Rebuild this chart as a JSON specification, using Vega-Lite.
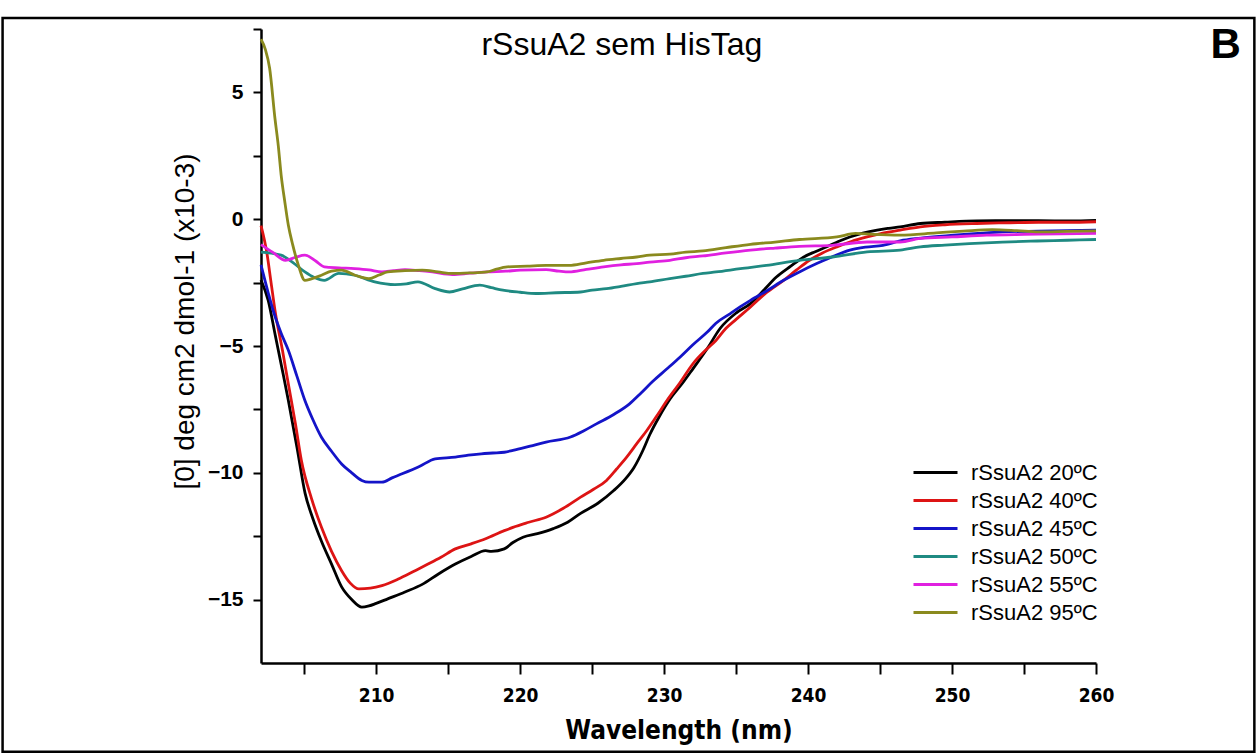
{
  "$schema": "https://vega.github.io/schema/vega-lite/v6.json",
  "width": 835,
  "height": 634,
  "autosize": {"type": "none"},
  "padding": {"left": 261, "top": 29, "right": 161, "bottom": 91},
  "background": "white",
  "config": {
    "view": {"stroke": null},
    "axis": {"domainColor": "black", "domainWidth": 2.5, "tickColor": "black", "tickWidth": 2, "grid": false, "labelColor": "black", "titleColor": "black"}
  },
  "datasets": {
    "cd": [
      {"s":"rSsuA2 20ºC","x":202.0,"y":-2.4},{"s":"rSsuA2 20ºC","x":202.5,"y":-3.2},{"s":"rSsuA2 20ºC","x":203.0,"y":-4.6},{"s":"rSsuA2 20ºC","x":203.5,"y":-6.0},{"s":"rSsuA2 20ºC","x":203.9,"y":-7.15},{"s":"rSsuA2 20ºC","x":204.5,"y":-9.0},{"s":"rSsuA2 20ºC","x":205.06,"y":-10.8},{"s":"rSsuA2 20ºC","x":205.6,"y":-11.8},{"s":"rSsuA2 20ºC","x":206.2,"y":-12.7},{"s":"rSsuA2 20ºC","x":206.9,"y":-13.6},{"s":"rSsuA2 20ºC","x":207.6,"y":-14.5},{"s":"rSsuA2 20ºC","x":208.3,"y":-15.0},{"s":"rSsuA2 20ºC","x":209.0,"y":-15.3},{"s":"rSsuA2 20ºC","x":209.5,"y":-15.25},{"s":"rSsuA2 20ºC","x":210.0,"y":-15.15},{"s":"rSsuA2 20ºC","x":210.8,"y":-14.97},{"s":"rSsuA2 20ºC","x":212.0,"y":-14.7},{"s":"rSsuA2 20ºC","x":213.2,"y":-14.4},{"s":"rSsuA2 20ºC","x":214.3,"y":-14.0},{"s":"rSsuA2 20ºC","x":215.5,"y":-13.6},{"s":"rSsuA2 20ºC","x":216.6,"y":-13.3},{"s":"rSsuA2 20ºC","x":217.6,"y":-13.07},{"s":"rSsuA2 20ºC","x":218.0,"y":-13.1},{"s":"rSsuA2 20ºC","x":218.9,"y":-13.0},{"s":"rSsuA2 20ºC","x":219.5,"y":-12.75},{"s":"rSsuA2 20ºC","x":220.2,"y":-12.54},{"s":"rSsuA2 20ºC","x":221.2,"y":-12.4},{"s":"rSsuA2 20ºC","x":222.3,"y":-12.2},{"s":"rSsuA2 20ºC","x":223.3,"y":-11.95},{"s":"rSsuA2 20ºC","x":224.2,"y":-11.6},{"s":"rSsuA2 20ºC","x":225.4,"y":-11.2},{"s":"rSsuA2 20ºC","x":226.5,"y":-10.7},{"s":"rSsuA2 20ºC","x":227.3,"y":-10.25},{"s":"rSsuA2 20ºC","x":227.9,"y":-9.8},{"s":"rSsuA2 20ºC","x":228.5,"y":-9.15},{"s":"rSsuA2 20ºC","x":229.0,"y":-8.5},{"s":"rSsuA2 20ºC","x":229.7,"y":-7.75},{"s":"rSsuA2 20ºC","x":230.4,"y":-7.1},{"s":"rSsuA2 20ºC","x":231.3,"y":-6.45},{"s":"rSsuA2 20ºC","x":232.0,"y":-5.9},{"s":"rSsuA2 20ºC","x":233.0,"y":-5.1},{"s":"rSsuA2 20ºC","x":233.9,"y":-4.3},{"s":"rSsuA2 20ºC","x":235.0,"y":-3.7},{"s":"rSsuA2 20ºC","x":236.0,"y":-3.33},{"s":"rSsuA2 20ºC","x":237.0,"y":-2.75},{"s":"rSsuA2 20ºC","x":237.8,"y":-2.28},{"s":"rSsuA2 20ºC","x":238.8,"y":-1.85},{"s":"rSsuA2 20ºC","x":239.7,"y":-1.49},{"s":"rSsuA2 20ºC","x":240.5,"y":-1.28},{"s":"rSsuA2 20ºC","x":241.3,"y":-1.09},{"s":"rSsuA2 20ºC","x":242.1,"y":-0.88},{"s":"rSsuA2 20ºC","x":242.9,"y":-0.7},{"s":"rSsuA2 20ºC","x":243.8,"y":-0.55},{"s":"rSsuA2 20ºC","x":244.8,"y":-0.43},{"s":"rSsuA2 20ºC","x":245.6,"y":-0.36},{"s":"rSsuA2 20ºC","x":246.4,"y":-0.3},{"s":"rSsuA2 20ºC","x":247.8,"y":-0.17},{"s":"rSsuA2 20ºC","x":249.5,"y":-0.12},{"s":"rSsuA2 20ºC","x":251.7,"y":-0.07},{"s":"rSsuA2 20ºC","x":254.0,"y":-0.06},{"s":"rSsuA2 20ºC","x":256.0,"y":-0.06},{"s":"rSsuA2 20ºC","x":258.2,"y":-0.07},{"s":"rSsuA2 20ºC","x":260.0,"y":-0.05},

      {"s":"rSsuA2 40ºC","x":202.0,"y":-0.25},{"s":"rSsuA2 40ºC","x":202.4,"y":-1.3},{"s":"rSsuA2 40ºC","x":202.7,"y":-2.5},{"s":"rSsuA2 40ºC","x":203.0,"y":-3.7},{"s":"rSsuA2 40ºC","x":203.5,"y":-5.2},{"s":"rSsuA2 40ºC","x":203.9,"y":-6.5},{"s":"rSsuA2 40ºC","x":204.4,"y":-8.1},{"s":"rSsuA2 40ºC","x":204.8,"y":-9.5},{"s":"rSsuA2 40ºC","x":205.5,"y":-11.0},{"s":"rSsuA2 40ºC","x":206.2,"y":-12.15},{"s":"rSsuA2 40ºC","x":206.9,"y":-13.1},{"s":"rSsuA2 40ºC","x":207.6,"y":-13.86},{"s":"rSsuA2 40ºC","x":208.2,"y":-14.35},{"s":"rSsuA2 40ºC","x":208.8,"y":-14.58},{"s":"rSsuA2 40ºC","x":209.6,"y":-14.55},{"s":"rSsuA2 40ºC","x":210.4,"y":-14.45},{"s":"rSsuA2 40ºC","x":211.5,"y":-14.2},{"s":"rSsuA2 40ºC","x":212.7,"y":-13.86},{"s":"rSsuA2 40ºC","x":213.6,"y":-13.6},{"s":"rSsuA2 40ºC","x":214.5,"y":-13.33},{"s":"rSsuA2 40ºC","x":215.5,"y":-13.0},{"s":"rSsuA2 40ºC","x":216.6,"y":-12.8},{"s":"rSsuA2 40ºC","x":217.6,"y":-12.6},{"s":"rSsuA2 40ºC","x":218.9,"y":-12.28},{"s":"rSsuA2 40ºC","x":219.5,"y":-12.15},{"s":"rSsuA2 40ºC","x":220.6,"y":-11.95},{"s":"rSsuA2 40ºC","x":221.8,"y":-11.75},{"s":"rSsuA2 40ºC","x":223.0,"y":-11.4},{"s":"rSsuA2 40ºC","x":224.2,"y":-10.96},{"s":"rSsuA2 40ºC","x":225.1,"y":-10.65},{"s":"rSsuA2 40ºC","x":226.0,"y":-10.3},{"s":"rSsuA2 40ºC","x":226.7,"y":-9.85},{"s":"rSsuA2 40ºC","x":227.4,"y":-9.38},{"s":"rSsuA2 40ºC","x":228.1,"y":-8.85},{"s":"rSsuA2 40ºC","x":228.8,"y":-8.33},{"s":"rSsuA2 40ºC","x":229.5,"y":-7.75},{"s":"rSsuA2 40ºC","x":230.2,"y":-7.15},{"s":"rSsuA2 40ºC","x":231.1,"y":-6.45},{"s":"rSsuA2 40ºC","x":232.0,"y":-5.7},{"s":"rSsuA2 40ºC","x":233.0,"y":-5.1},{"s":"rSsuA2 40ºC","x":233.6,"y":-4.78},{"s":"rSsuA2 40ºC","x":234.3,"y":-4.3},{"s":"rSsuA2 40ºC","x":235.0,"y":-3.95},{"s":"rSsuA2 40ºC","x":236.0,"y":-3.46},{"s":"rSsuA2 40ºC","x":237.1,"y":-2.9},{"s":"rSsuA2 40ºC","x":238.3,"y":-2.41},{"s":"rSsuA2 40ºC","x":239.2,"y":-2.0},{"s":"rSsuA2 40ºC","x":240.1,"y":-1.62},{"s":"rSsuA2 40ºC","x":241.0,"y":-1.33},{"s":"rSsuA2 40ºC","x":242.0,"y":-1.09},{"s":"rSsuA2 40ºC","x":243.0,"y":-0.88},{"s":"rSsuA2 40ºC","x":244.1,"y":-0.7},{"s":"rSsuA2 40ºC","x":245.2,"y":-0.55},{"s":"rSsuA2 40ºC","x":246.4,"y":-0.43},{"s":"rSsuA2 40ºC","x":247.8,"y":-0.3},{"s":"rSsuA2 40ºC","x":249.5,"y":-0.22},{"s":"rSsuA2 40ºC","x":251.7,"y":-0.17},{"s":"rSsuA2 40ºC","x":254.0,"y":-0.14},{"s":"rSsuA2 40ºC","x":256.0,"y":-0.12},{"s":"rSsuA2 40ºC","x":258.0,"y":-0.12},{"s":"rSsuA2 40ºC","x":260.0,"y":-0.1},

      {"s":"rSsuA2 45ºC","x":202.0,"y":-1.8},{"s":"rSsuA2 45ºC","x":202.5,"y":-2.9},{"s":"rSsuA2 45ºC","x":202.9,"y":-3.7},{"s":"rSsuA2 45ºC","x":203.4,"y":-4.5},{"s":"rSsuA2 45ºC","x":203.9,"y":-5.17},{"s":"rSsuA2 45ºC","x":204.5,"y":-6.2},{"s":"rSsuA2 45ºC","x":205.05,"y":-7.15},{"s":"rSsuA2 45ºC","x":205.6,"y":-7.9},{"s":"rSsuA2 45ºC","x":206.2,"y":-8.6},{"s":"rSsuA2 45ºC","x":206.9,"y":-9.15},{"s":"rSsuA2 45ºC","x":207.6,"y":-9.65},{"s":"rSsuA2 45ºC","x":208.3,"y":-10.0},{"s":"rSsuA2 45ºC","x":209.0,"y":-10.3},{"s":"rSsuA2 45ºC","x":209.5,"y":-10.37},{"s":"rSsuA2 45ºC","x":210.4,"y":-10.37},{"s":"rSsuA2 45ºC","x":211.1,"y":-10.2},{"s":"rSsuA2 45ºC","x":211.8,"y":-10.04},{"s":"rSsuA2 45ºC","x":213.0,"y":-9.75},{"s":"rSsuA2 45ºC","x":214.1,"y":-9.45},{"s":"rSsuA2 45ºC","x":215.5,"y":-9.38},{"s":"rSsuA2 45ºC","x":216.4,"y":-9.3},{"s":"rSsuA2 45ºC","x":217.3,"y":-9.25},{"s":"rSsuA2 45ºC","x":218.1,"y":-9.22},{"s":"rSsuA2 45ºC","x":218.9,"y":-9.19},{"s":"rSsuA2 45ºC","x":219.5,"y":-9.12},{"s":"rSsuA2 45ºC","x":220.7,"y":-8.95},{"s":"rSsuA2 45ºC","x":221.8,"y":-8.79},{"s":"rSsuA2 45ºC","x":223.5,"y":-8.59},{"s":"rSsuA2 45ºC","x":224.4,"y":-8.35},{"s":"rSsuA2 45ºC","x":225.3,"y":-8.07},{"s":"rSsuA2 45ºC","x":226.5,"y":-7.7},{"s":"rSsuA2 45ºC","x":227.6,"y":-7.28},{"s":"rSsuA2 45ºC","x":228.4,"y":-6.85},{"s":"rSsuA2 45ºC","x":229.2,"y":-6.4},{"s":"rSsuA2 45ºC","x":230.2,"y":-5.9},{"s":"rSsuA2 45ºC","x":231.1,"y":-5.44},{"s":"rSsuA2 45ºC","x":232.0,"y":-4.95},{"s":"rSsuA2 45ºC","x":233.0,"y":-4.45},{"s":"rSsuA2 45ºC","x":233.6,"y":-4.1},{"s":"rSsuA2 45ºC","x":234.6,"y":-3.72},{"s":"rSsuA2 45ºC","x":235.3,"y":-3.45},{"s":"rSsuA2 45ºC","x":236.0,"y":-3.2},{"s":"rSsuA2 45ºC","x":237.2,"y":-2.8},{"s":"rSsuA2 45ºC","x":238.3,"y":-2.41},{"s":"rSsuA2 45ºC","x":239.5,"y":-2.05},{"s":"rSsuA2 45ºC","x":240.6,"y":-1.75},{"s":"rSsuA2 45ºC","x":241.8,"y":-1.45},{"s":"rSsuA2 45ºC","x":242.9,"y":-1.22},{"s":"rSsuA2 45ºC","x":244.0,"y":-1.1},{"s":"rSsuA2 45ºC","x":245.2,"y":-1.03},{"s":"rSsuA2 45ºC","x":246.6,"y":-0.83},{"s":"rSsuA2 45ºC","x":248.3,"y":-0.72},{"s":"rSsuA2 45ºC","x":250.1,"y":-0.63},{"s":"rSsuA2 45ºC","x":251.8,"y":-0.56},{"s":"rSsuA2 45ºC","x":253.5,"y":-0.5},{"s":"rSsuA2 45ºC","x":256.0,"y":-0.47},{"s":"rSsuA2 45ºC","x":258.0,"y":-0.45},{"s":"rSsuA2 45ºC","x":260.0,"y":-0.43},

      {"s":"rSsuA2 50ºC","x":202.0,"y":-1.3},{"s":"rSsuA2 50ºC","x":203.4,"y":-1.42},{"s":"rSsuA2 50ºC","x":204.2,"y":-1.7},{"s":"rSsuA2 50ºC","x":205.05,"y":-2.08},{"s":"rSsuA2 50ºC","x":205.7,"y":-2.3},{"s":"rSsuA2 50ºC","x":206.4,"y":-2.41},{"s":"rSsuA2 50ºC","x":207.4,"y":-2.14},{"s":"rSsuA2 50ºC","x":208.5,"y":-2.21},{"s":"rSsuA2 50ºC","x":209.9,"y":-2.47},{"s":"rSsuA2 50ºC","x":211.3,"y":-2.58},{"s":"rSsuA2 50ºC","x":212.1,"y":-2.55},{"s":"rSsuA2 50ºC","x":212.9,"y":-2.47},{"s":"rSsuA2 50ºC","x":214.1,"y":-2.74},{"s":"rSsuA2 50ºC","x":215.1,"y":-2.87},{"s":"rSsuA2 50ºC","x":216.0,"y":-2.75},{"s":"rSsuA2 50ºC","x":217.2,"y":-2.6},{"s":"rSsuA2 50ºC","x":218.0,"y":-2.7},{"s":"rSsuA2 50ºC","x":218.8,"y":-2.8},{"s":"rSsuA2 50ºC","x":220.0,"y":-2.88},{"s":"rSsuA2 50ºC","x":221.1,"y":-2.93},{"s":"rSsuA2 50ºC","x":222.5,"y":-2.9},{"s":"rSsuA2 50ºC","x":224.2,"y":-2.87},{"s":"rSsuA2 50ºC","x":225.0,"y":-2.8},{"s":"rSsuA2 50ºC","x":226.0,"y":-2.74},{"s":"rSsuA2 50ºC","x":227.0,"y":-2.65},{"s":"rSsuA2 50ºC","x":228.1,"y":-2.54},{"s":"rSsuA2 50ºC","x":229.0,"y":-2.47},{"s":"rSsuA2 50ºC","x":230.4,"y":-2.34},{"s":"rSsuA2 50ºC","x":231.5,"y":-2.25},{"s":"rSsuA2 50ºC","x":232.7,"y":-2.14},{"s":"rSsuA2 50ºC","x":233.6,"y":-2.08},{"s":"rSsuA2 50ºC","x":235.3,"y":-1.95},{"s":"rSsuA2 50ºC","x":237.1,"y":-1.82},{"s":"rSsuA2 50ºC","x":239.4,"y":-1.62},{"s":"rSsuA2 50ºC","x":241.7,"y":-1.49},{"s":"rSsuA2 50ºC","x":244.1,"y":-1.29},{"s":"rSsuA2 50ºC","x":246.4,"y":-1.22},{"s":"rSsuA2 50ºC","x":247.8,"y":-1.09},{"s":"rSsuA2 50ºC","x":249.5,"y":-1.02},{"s":"rSsuA2 50ºC","x":251.2,"y":-0.96},{"s":"rSsuA2 50ºC","x":253.5,"y":-0.9},{"s":"rSsuA2 50ºC","x":255.9,"y":-0.86},{"s":"rSsuA2 50ºC","x":258.0,"y":-0.83},{"s":"rSsuA2 50ºC","x":260.0,"y":-0.8},

      {"s":"rSsuA2 55ºC","x":202.0,"y":-1.0},{"s":"rSsuA2 55ºC","x":202.8,"y":-1.3},{"s":"rSsuA2 55ºC","x":203.7,"y":-1.62},{"s":"rSsuA2 55ºC","x":204.4,"y":-1.5},{"s":"rSsuA2 55ºC","x":205.05,"y":-1.42},{"s":"rSsuA2 55ºC","x":205.8,"y":-1.65},{"s":"rSsuA2 55ºC","x":206.4,"y":-1.88},{"s":"rSsuA2 55ºC","x":207.4,"y":-1.92},{"s":"rSsuA2 55ºC","x":208.5,"y":-1.95},{"s":"rSsuA2 55ºC","x":209.5,"y":-2.0},{"s":"rSsuA2 55ºC","x":210.4,"y":-2.08},{"s":"rSsuA2 55ºC","x":211.2,"y":-2.03},{"s":"rSsuA2 55ºC","x":212.0,"y":-1.99},{"s":"rSsuA2 55ºC","x":213.0,"y":-2.03},{"s":"rSsuA2 55ºC","x":213.9,"y":-2.08},{"s":"rSsuA2 55ºC","x":215.3,"y":-2.18},{"s":"rSsuA2 55ºC","x":216.5,"y":-2.13},{"s":"rSsuA2 55ºC","x":217.7,"y":-2.08},{"s":"rSsuA2 55ºC","x":219.0,"y":-2.05},{"s":"rSsuA2 55ºC","x":220.0,"y":-2.01},{"s":"rSsuA2 55ºC","x":221.8,"y":-1.99},{"s":"rSsuA2 55ºC","x":222.7,"y":-2.05},{"s":"rSsuA2 55ºC","x":223.4,"y":-2.08},{"s":"rSsuA2 55ºC","x":224.6,"y":-1.98},{"s":"rSsuA2 55ºC","x":225.8,"y":-1.88},{"s":"rSsuA2 55ºC","x":227.0,"y":-1.8},{"s":"rSsuA2 55ºC","x":228.1,"y":-1.75},{"s":"rSsuA2 55ºC","x":229.0,"y":-1.69},{"s":"rSsuA2 55ºC","x":230.4,"y":-1.62},{"s":"rSsuA2 55ºC","x":231.5,"y":-1.52},{"s":"rSsuA2 55ºC","x":232.7,"y":-1.45},{"s":"rSsuA2 55ºC","x":234.3,"y":-1.33},{"s":"rSsuA2 55ºC","x":236.0,"y":-1.22},{"s":"rSsuA2 55ºC","x":237.7,"y":-1.14},{"s":"rSsuA2 55ºC","x":239.4,"y":-1.07},{"s":"rSsuA2 55ºC","x":241.7,"y":-1.03},{"s":"rSsuA2 55ºC","x":244.1,"y":-0.9},{"s":"rSsuA2 55ºC","x":246.4,"y":-0.9},{"s":"rSsuA2 55ºC","x":247.8,"y":-0.76},{"s":"rSsuA2 55ºC","x":250.0,"y":-0.7},{"s":"rSsuA2 55ºC","x":252.4,"y":-0.63},{"s":"rSsuA2 55ºC","x":255.0,"y":-0.6},{"s":"rSsuA2 55ºC","x":257.5,"y":-0.58},{"s":"rSsuA2 55ºC","x":260.0,"y":-0.56},

      {"s":"rSsuA2 95ºC","x":202.0,"y":7.1},{"s":"rSsuA2 95ºC","x":202.3,"y":6.7},{"s":"rSsuA2 95ºC","x":202.6,"y":5.95},{"s":"rSsuA2 95ºC","x":202.97,"y":3.97},{"s":"rSsuA2 95ºC","x":203.2,"y":2.9},{"s":"rSsuA2 95ºC","x":203.4,"y":1.74},{"s":"rSsuA2 95ºC","x":203.65,"y":0.7},{"s":"rSsuA2 95ºC","x":203.9,"y":-0.24},{"s":"rSsuA2 95ºC","x":204.2,"y":-1.0},{"s":"rSsuA2 95ºC","x":204.6,"y":-1.82},{"s":"rSsuA2 95ºC","x":205.05,"y":-2.41},{"s":"rSsuA2 95ºC","x":205.5,"y":-2.35},{"s":"rSsuA2 95ºC","x":206.2,"y":-2.21},{"s":"rSsuA2 95ºC","x":206.9,"y":-2.05},{"s":"rSsuA2 95ºC","x":207.6,"y":-2.01},{"s":"rSsuA2 95ºC","x":208.5,"y":-2.2},{"s":"rSsuA2 95ºC","x":209.5,"y":-2.34},{"s":"rSsuA2 95ºC","x":210.2,"y":-2.2},{"s":"rSsuA2 95ºC","x":210.8,"y":-2.08},{"s":"rSsuA2 95ºC","x":212.0,"y":-2.03},{"s":"rSsuA2 95ºC","x":213.2,"y":-2.01},{"s":"rSsuA2 95ºC","x":214.3,"y":-2.08},{"s":"rSsuA2 95ºC","x":215.3,"y":-2.14},{"s":"rSsuA2 95ºC","x":216.5,"y":-2.12},{"s":"rSsuA2 95ºC","x":217.7,"y":-2.08},{"s":"rSsuA2 95ºC","x":218.3,"y":-1.98},{"s":"rSsuA2 95ºC","x":219.1,"y":-1.88},{"s":"rSsuA2 95ºC","x":220.5,"y":-1.85},{"s":"rSsuA2 95ºC","x":221.8,"y":-1.82},{"s":"rSsuA2 95ºC","x":223.4,"y":-1.82},{"s":"rSsuA2 95ºC","x":224.6,"y":-1.72},{"s":"rSsuA2 95ºC","x":225.8,"y":-1.62},{"s":"rSsuA2 95ºC","x":227.0,"y":-1.55},{"s":"rSsuA2 95ºC","x":228.1,"y":-1.49},{"s":"rSsuA2 95ºC","x":229.0,"y":-1.42},{"s":"rSsuA2 95ºC","x":230.4,"y":-1.38},{"s":"rSsuA2 95ºC","x":231.5,"y":-1.3},{"s":"rSsuA2 95ºC","x":232.7,"y":-1.25},{"s":"rSsuA2 95ºC","x":234.3,"y":-1.12},{"s":"rSsuA2 95ºC","x":236.0,"y":-0.99},{"s":"rSsuA2 95ºC","x":237.7,"y":-0.9},{"s":"rSsuA2 95ºC","x":239.4,"y":-0.8},{"s":"rSsuA2 95ºC","x":242.0,"y":-0.7},{"s":"rSsuA2 95ºC","x":243.3,"y":-0.56},{"s":"rSsuA2 95ºC","x":244.5,"y":-0.6},{"s":"rSsuA2 95ºC","x":246.4,"y":-0.63},{"s":"rSsuA2 95ºC","x":248.9,"y":-0.54},{"s":"rSsuA2 95ºC","x":250.8,"y":-0.47},{"s":"rSsuA2 95ºC","x":252.8,"y":-0.41},{"s":"rSsuA2 95ºC","x":254.5,"y":-0.45},{"s":"rSsuA2 95ºC","x":256.0,"y":-0.5},{"s":"rSsuA2 95ºC","x":258.0,"y":-0.48},{"s":"rSsuA2 95ºC","x":260.0,"y":-0.46}
    ],
    "notes": [
      {"label": "rSsuA2 sem HisTag", "kind": "title"},
      {"label": "B", "kind": "panel"}
    ]
  },
  "layer": [
    {
      "data": {"name": "cd"},
      "mark": {"type": "line", "strokeWidth": 2.8, "interpolate": "monotone"},
      "encoding": {
        "x": {
          "field": "x", "type": "quantitative",
          "scale": {"domain": [202, 260], "nice": false, "zero": false},
          "axis": {
            "title": "Wavelength (nm)",
            "values": [205, 210, 215, 220, 225, 230, 235, 240, 245, 250, 255, 260],
            "labelExpr": "datum.value % 10 == 0 ? datum.label : ''",
            "tickSize": 11,
            "labelFont": "DejaVu Sans Condensed, Liberation Sans, sans-serif",
            "labelFontWeight": "bold",
            "labelFontSize": 19,
            "labelPadding": 12,
            "labelFlush": false,
            "labelOverlap": false,
            "titleFont": "DejaVu Sans Condensed, Liberation Sans, sans-serif",
            "titleFontWeight": "bold",
            "titleFontSize": 26,
            "titlePadding": 12
          }
        },
        "y": {
          "field": "y", "type": "quantitative",
          "scale": {"domain": [-17.5, 7.5], "nice": false, "zero": false},
          "axis": {
            "title": "[0] deg cm2 dmol-1 (x10-3)",
            "values": [-15, -12.5, -10, -7.5, -5, -2.5, 0, 2.5, 5, 7.5],
            "labelExpr": "datum.value % 5 == 0 ? datum.label : ''",
            "tickSize": 8,
            "labelFont": "Liberation Sans",
            "labelFontWeight": "bold",
            "labelFontSize": 21,
            "labelPadding": 10,
            "labelFlush": false,
            "labelOverlap": false,
            "titleFont": "Liberation Sans",
            "titleFontWeight": "normal",
            "titleFontSize": 28,
            "titleBaseline": "middle",
            "titleX": -76,
            "titleY": 292
          }
        },
        "color": {
          "field": "s", "type": "nominal",
          "scale": {
            "domain": ["rSsuA2 20ºC", "rSsuA2 40ºC", "rSsuA2 45ºC", "rSsuA2 50ºC", "rSsuA2 55ºC", "rSsuA2 95ºC"],
            "range": ["#000000", "#dd1414", "#1414c8", "#1f8a82", "#e020e0", "#8a8a1e"]
          },
          "legend": {
            "title": null,
            "orient": "none",
            "legendX": 662,
            "legendY": 431,
            "symbolType": "M-2,0H2",
            "symbolSize": 484,
            "symbolStrokeWidth": 3,
            "labelFont": "Liberation Sans",
            "labelFontSize": 22,
            "labelColor": "black",
            "labelOffset": 23,
            "rowPadding": 4,
            "labelLimit": 300
          }
        }
      }
    },
    {
      "data": {"name": "notes"},
      "transform": [{"filter": "datum.kind == 'title'"}],
      "mark": {"type": "text", "font": "Liberation Sans", "fontWeight": "normal", "fontSize": 32, "color": "black", "align": "center", "baseline": "middle"},
      "encoding": {
        "text": {"field": "label"},
        "x": {"datum": 227.07, "type": "quantitative"},
        "y": {"datum": 6.87, "type": "quantitative"}
      }
    },
    {
      "data": {"name": "notes"},
      "transform": [{"filter": "datum.kind == 'panel'"}],
      "mark": {"type": "text", "font": "Liberation Sans", "fontWeight": "bold", "fontSize": 42, "color": "black", "align": "center", "baseline": "middle"},
      "encoding": {
        "text": {"field": "label"},
        "x": {"datum": 269.0, "type": "quantitative"},
        "y": {"datum": 6.87, "type": "quantitative"}
      }
    },
    {
      "data": {"values": [{}]},
      "mark": {"type": "rect", "fill": "transparent", "stroke": "black", "strokeWidth": 2.5},
      "encoding": {
        "x": {"datum": 184.05, "type": "quantitative"},
        "x2": {"datum": 271.0},
        "y": {"datum": 7.93, "type": "quantitative"},
        "y2": {"datum": -21.0}
      }
    }
  ]
}
